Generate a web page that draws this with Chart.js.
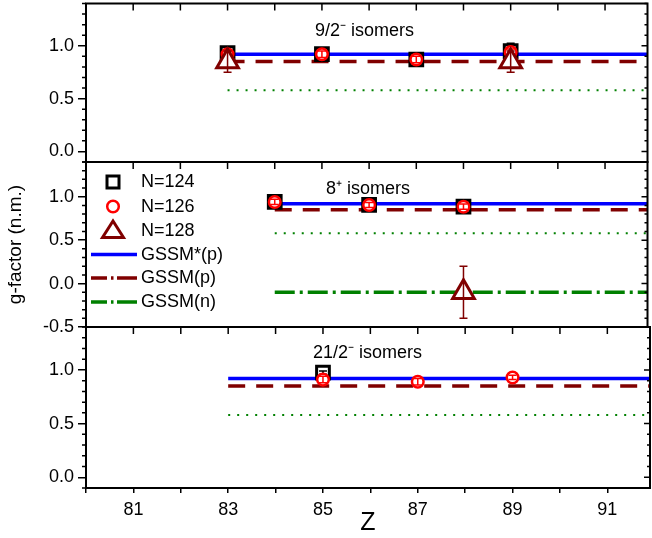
<!DOCTYPE html>
<html><head><meta charset="utf-8">
<script src="https://cdn.jsdelivr.net/npm/chart.js@4.4.1/dist/chart.umd.min.js"></script>
<style>
html,body{margin:0;padding:0;background:#fff;overflow:hidden;}
#wrap{position:relative;width:652px;height:538px;background:#fff;overflow:hidden;}
#wrap canvas{position:absolute;left:0;}
</style></head><body>
<div id="wrap">
<canvas id="c1" width="663" height="538" style="top:-12px"></canvas>
<canvas id="c2" width="663" height="538" style="top:0px"></canvas>
<canvas id="c3" width="663" height="538" style="top:0px"></canvas>
</div>
<script>
// ---------------- data ----------------
const zTicks = [80, 81, 82, 83, 84, 85, 86, 87, 88, 89, 90, 91];
const zTickLabels = [81, 83, 85, 87, 89, 91];
const yTicksTop = [0.0, 0.5, 1.0];
const yTicksMid = [-0.5, 0.0, 0.5, 1.0];
const yTicksBot = [0.0, 0.5, 1.0];
const panelTitles = ['9/2⁻ isomers', '8⁺ isomers', '21/2⁻ isomers'];
const seriesNames = ['N=124', 'N=126', 'N=128'];
const lineNames = ['GSSM*(p)', 'GSSM(p)', 'GSSM(n)'];
const xTitle = 'Z';
const yTitle = 'g-factor (n.m.)';

// panel 1: 9/2- isomers
const p1Z124 = [83, 85, 87, 89];
const p1G124 = [0.93, 0.92, 0.87, 0.95];
const p1E124 = [0.02, 0.02, 0.02, 0.075];
const p1Z126 = [83, 85, 87, 89];
const p1G126 = [0.92, 0.92, 0.87, 0.94];
const p1E126 = [0.02, 0.03, 0.03, 0.03];
const p1Z128 = [83, 89];
const p1G128 = [0.85, 0.85];
const p1E128 = [0.1, 0.1];

// panel 2: 8+ isomers
const p2Z124 = [84, 86, 88];
const p2G124 = [0.94, 0.905, 0.885];
const p2E124 = [0.02, 0.02, 0.02];
const p2Z126 = [84, 86, 88];
const p2G126 = [0.94, 0.905, 0.885];
const p2E126 = [0.03, 0.03, 0.03];
const p2Z128 = [88];
const p2G128 = [-0.1];
const p2E128 = [0.3];

// panel 3: 21/2- isomers
const p3Z124 = [85];
const p3G124 = [0.975];
const p3E124 = [0.015];
const p3Z126 = [85, 87, 89];
const p3G126 = [0.91, 0.89, 0.93];
const p3E126 = [0.03, 0.03, 0.02];
const p3Z128 = [];
const p3G128 = [];
const p3E128 = [];

// model lines (per panel)
const lineStartZ = [83, 84, 83];
const lineEndZ = 92;
const gssmStarP = [0.92, 0.92, 0.92];
const gssmP = [0.85, 0.85, 0.85];
const dottedRef = [0.58, 0.58, 0.58];
const gssmN = [null, -0.1, null];

// ---------------- styling ----------------
const FONT = "'Liberation Sans', Arial, Helvetica, sans-serif";
Chart.defaults.font.family = FONT;
Chart.defaults.color = '#000';
const C_BLACK = '#000000', C_RED = '#ff0000', C_DRED = '#800000', C_BLUE = '#0000ff', C_GREEN = '#008000';

function pts(zs, gs) { return zs.map((z, i) => ({x: z, y: gs[i]})); }

const errorBarPlugin = {
  id: 'errbars',
  afterDatasetDraw(chart, args) {
    const ds = chart.data.datasets[args.index];
    if (!ds.errors) return;
    const ctx = chart.ctx, ys = chart.scales.y;
    ctx.save();
    ctx.strokeStyle = ds.borderColor;
    ctx.lineWidth = 1.5;
    args.meta.data.forEach((pt, j) => {
      const v = ds.data[j].y, e = ds.errors[j];
      const yt = ys.getPixelForValue(v + e), yb = ys.getPixelForValue(v - e), x = pt.x;
      ctx.beginPath();
      ctx.moveTo(x, yt); ctx.lineTo(x, yb);
      ctx.moveTo(x - 4, yt); ctx.lineTo(x + 4, yt);
      ctx.moveTo(x - 4, yb); ctx.lineTo(x + 4, yb);
      ctx.stroke();
    });
    ctx.restore();
  }
};

const framePlugin = {
  id: 'frame',
  afterDraw(chart, args, opts) {
    const {ctx, chartArea: a, scales: {x, y}} = chart;
    ctx.save();
    ctx.strokeStyle = '#000';
    ctx.lineWidth = 1.5;
    ctx.beginPath();
    zTicks.forEach(z => {
      const px = x.getPixelForValue(z);
      ctx.moveTo(px, a.top); ctx.lineTo(px, a.top + 7);
    });
    const k0 = Math.ceil(y.min * 10 - 1e-6), k1 = Math.floor(y.max * 10 + 1e-6);
    for (let k = k0; k <= k1; k++) {
      const py = y.getPixelForValue(k / 10);
      if (k % 5 !== 0) {
        ctx.moveTo(a.left - 4, py); ctx.lineTo(a.left, py);
        ctx.moveTo(a.right - 3, py); ctx.lineTo(a.right, py);
      } else {
        ctx.moveTo(a.right - 6, py); ctx.lineTo(a.right, py);
      }
    }
    ctx.stroke();
    ctx.lineWidth = 2;
    ctx.strokeRect(a.left, a.top, a.right - a.left, a.bottom - a.top);
    // panel title (page coords -> canvas coords)
    ctx.fillStyle = '#000';
    ctx.font = '18px ' + FONT;
    ctx.textAlign = 'left';
    ctx.textBaseline = 'alphabetic';
    ctx.fillText(opts.title, opts.tx, opts.ty - opts.dy);
    ctx.restore();
  }
};

const legendPlugin = {
  id: 'customLegend',
  afterDraw(chart, args, opts) {
    if (!opts.show) return;
    const ctx = chart.ctx;
    const sx = 113, tx = 141;
    const rows = [182, 206.5, 231, 254.5, 278, 302];
    ctx.save();
    // square
    ctx.strokeStyle = C_BLACK; ctx.lineWidth = 3;
    ctx.strokeRect(sx - 6, rows[0] - 6, 12, 12);
    // circle
    ctx.strokeStyle = C_RED; ctx.lineWidth = 2.5;
    ctx.beginPath(); ctx.arc(sx, rows[1], 5.8, 0, Math.PI * 2); ctx.stroke();
    // triangle
    ctx.strokeStyle = C_DRED; ctx.lineWidth = 3;
    const r = 11, ty = rows[2] + 1;
    ctx.beginPath();
    ctx.moveTo(sx, ty - r);
    ctx.lineTo(sx + 0.866 * r * 1.1, ty + 0.5 * r);
    ctx.lineTo(sx - 0.866 * r * 1.1, ty + 0.5 * r);
    ctx.closePath(); ctx.stroke();
    // lines
    ctx.lineWidth = 3.5;
    ctx.strokeStyle = C_BLUE;
    ctx.beginPath(); ctx.moveTo(91, rows[3]); ctx.lineTo(137, rows[3]); ctx.stroke();
    [[C_DRED, rows[4]], [C_GREEN, rows[5]]].forEach(([c, yy]) => {
      ctx.strokeStyle = c;
      ctx.beginPath();
      ctx.moveTo(91, yy); ctx.lineTo(107, yy);
      ctx.moveTo(111, yy); ctx.lineTo(113.5, yy);
      ctx.moveTo(117, yy); ctx.lineTo(137, yy);
      ctx.stroke();
    });
    ctx.fillStyle = '#000';
    ctx.font = '18px ' + FONT;
    ctx.textAlign = 'left'; ctx.textBaseline = 'middle';
    const labels = seriesNames.concat(lineNames);
    labels.forEach((t, i) => ctx.fillText(t, tx, rows[i] + 0.5));
    ctx.restore();
  }
};

function lineDs(y, start, color, width, dash) {
  return {
    data: [{x: start, y: y}, {x: lineEndZ, y: y}],
    showLine: true, borderColor: color, borderWidth: width, borderDash: dash,
    pointRadius: 0, pointHoverRadius: 0, fill: false, clip: 0, order: 10
  };
}

function markerDs(zs, gs, es, style, color, radius, bw, order) {
  return {
    data: pts(zs, gs), errors: es, showLine: false,
    pointStyle: style, pointRadius: radius, pointHoverRadius: radius,
    borderColor: color, backgroundColor: '#ffffff', pointBorderWidth: bw, borderWidth: bw,
    order: order, clip: false
  };
}

// page-coordinate panel frames: top 3-162, middle 162-327, bottom 327-488; x from 86 to 650
const panels = [
  {id: 'c1', idx: 0, dy: -12, top: 15, bottom: 364, ymin: -0.1, ymax: 1.4, yt: yTicksTop,
   Z124: p1Z124, G124: p1G124, E124: p1E124, Z126: p1Z126, G126: p1G126, E126: p1E126, Z128: p1Z128, G128: p1G128, E128: p1E128,
   tx: 315, ty: 35.5},
  {id: 'c2', idx: 1, dy: 0, top: 162, bottom: 211, ymin: -0.5, ymax: 1.4, yt: yTicksMid,
   Z124: p2Z124, G124: p2G124, E124: p2E124, Z126: p2Z126, G126: p2G126, E126: p2E126, Z128: p2Z128, G128: p2G128, E128: p2E128,
   tx: 326, ty: 193.5},
  {id: 'c3', idx: 2, dy: 0, top: 327, bottom: 0, ymin: -0.1, ymax: 1.4, yt: yTicksBot,
   Z124: p3Z124, G124: p3G124, E124: p3E124, Z126: p3Z126, G126: p3G126, E126: p3E126, Z128: p3Z128, G128: p3G128, E128: p3E128,
   tx: 313, ty: 358}
];

panels.forEach(p => {
  const i = p.idx;
  const isBottom = i === 2;
  const datasets = [
    lineDs(dottedRef[i], lineStartZ[i], C_GREEN, 2, [2, 7]),
    lineDs(gssmP[i], lineStartZ[i], C_DRED, 3.5, [17, 11]),
    lineDs(gssmStarP[i], lineStartZ[i], C_BLUE, 3.5, [])
  ];
  if (gssmN[i] !== null) datasets.push(lineDs(gssmN[i], lineStartZ[i], C_GREEN, 3.5, [20, 5, 3, 5]));
  datasets.push(markerDs(p.Z124, p.G124, p.E124, 'rect', C_BLACK, 9, 3, 3));
  datasets.push(markerDs(p.Z126, p.G126, p.E126, 'circle', C_RED, 5.8, 2.5, 2));
  if (p.Z128.length) datasets.push(markerDs(p.Z128, p.G128, p.E128, 'triangle', C_DRED, 12.5, 3, 1));

  new Chart(document.getElementById(p.id), {
    type: 'scatter',
    data: {datasets},
    plugins: [errorBarPlugin, framePlugin, legendPlugin],
    options: {
      responsive: false, animation: false, devicePixelRatio: 1,
      layout: {padding: {left: 0, right: 13, top: p.top, bottom: p.bottom}},
      plugins: {
        legend: {display: false}, tooltip: {enabled: false},
        frame: {title: panelTitles[i], tx: p.tx, ty: p.ty, dy: p.dy},
        customLegend: {show: i === 1}
      },
      scales: {
        x: {
          type: 'linear', min: 80, max: 91.9, display: isBottom, bounds: 'data',
          afterBuildTicks: s => { s.ticks = zTicks.map(v => ({value: v})); },
          afterFit: s => { if (isBottom) { s.height = 50; } s.paddingLeft = 0; s.paddingRight = 0; },
          ticks: {
            callback: v => zTickLabels.includes(v) ? String(v) : '',
            maxRotation: 0, autoSkip: false, padding: 6, color: '#000',
            font: {size: 18, family: FONT}
          },
          grid: {drawOnChartArea: false, drawTicks: true, tickLength: 5, color: '#000', lineWidth: 1.5},
          border: {display: false},
          title: {display: true, text: xTitle, color: '#000', font: {size: 25, family: FONT}, padding: {top: 0, bottom: 0}}
        },
        y: {
          type: 'linear', min: p.ymin, max: p.ymax, bounds: 'data',
          afterBuildTicks: s => { s.ticks = p.yt.map(v => ({value: v})); },
          afterFit: s => { s.width = 86; s.paddingTop = 0; s.paddingBottom = 0; },
          ticks: {
            callback: v => Number(v).toFixed(1),
            padding: 4, color: '#000', font: {size: 18, family: FONT}
          },
          grid: {drawOnChartArea: false, drawTicks: true, tickLength: 8, color: '#000', lineWidth: 1.5},
          border: {display: false},
          title: {display: i === 1, text: yTitle, color: '#000', font: {size: 19, family: FONT}, padding: {top: 4, bottom: 0}}
        }
      }
    }
  });
});
</script>
</body></html>
